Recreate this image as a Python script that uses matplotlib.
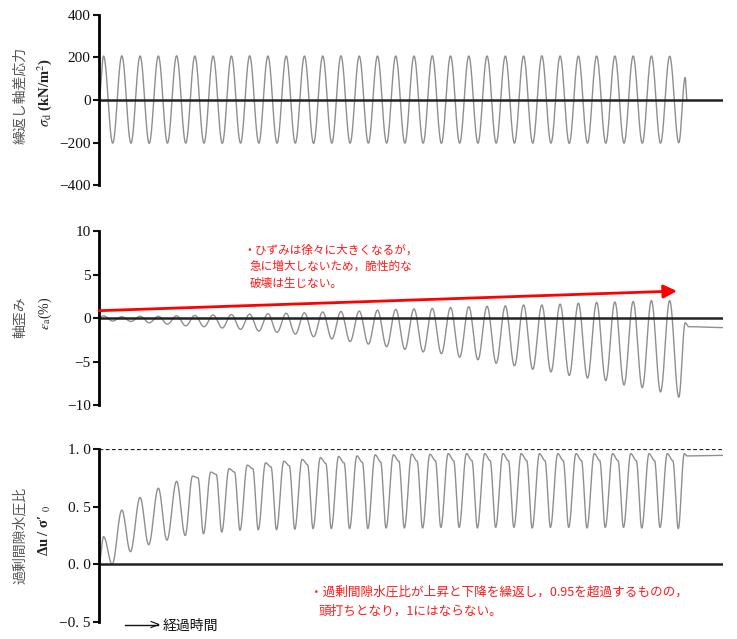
import numpy as np
import matplotlib.pyplot as plt

plt.rcParams['font.family'] = ['Liberation Serif', 'Noto Sans CJK JP']
plt.rcParams['mathtext.fontset'] = 'stix'

# ---- data (one entry per loading cycle, 32 cycles) ----
stress_peak = [207, 208, 207, 207, 208, 207, 207, 207, 208, 207, 207, 207, 207, 208, 207, 207,
               207, 207, 208, 207, 207, 207, 207, 207, 208, 207, 207, 207, 207, 207, 207, 206]
stress_trough = [-203, -203, -204, -203, -203, -203, -204, -203, -203, -203, -203, -204, -203, -203, -203, -203,
                 -203, -203, -204, -203, -203, -203, -203, -203, -203, -204, -203, -203, -203, -203, -203, -201]
stress_end = [106, 0]

strain_peak = [0.25, 0.15, 0.2, 0.2, 0.25, 0.3, 0.35, 0.4, 0.45, 0.5, 0.55, 0.6, 0.7, 0.75, 0.8, 0.9,
               1.0, 1.05, 1.1, 1.2, 1.3, 1.35, 1.4, 1.5, 1.5, 1.6, 1.7, 1.8, 1.85, 1.9, 2.0, 2.0]
strain_trough = [-0.35, -0.4, -0.55, -0.7, -0.9, -1.0, -1.15, -1.3, -1.5, -1.65, -1.85, -2.15, -2.4, -2.7, -3.0, -3.3,
                 -3.6, -3.9, -4.1, -4.5, -4.8, -5.2, -5.5, -5.9, -6.2, -6.6, -6.9, -7.2, -7.7, -8.0, -8.5, -9.1]
strain_end = [-0.55, -1.0, -1.1]

pore_peak = [0.24, 0.47, 0.58, 0.66, 0.72, 0.765, 0.80, 0.83, 0.86, 0.88, 0.895, 0.91, 0.925, 0.935, 0.94, 0.95,
             0.95, 0.955, 0.955, 0.96, 0.96, 0.96, 0.96, 0.96, 0.96, 0.96, 0.96, 0.96, 0.96, 0.96, 0.96, 0.96]
pore_knee = [None, None, None, None, None, 0.75, 0.78, 0.80, 0.83, 0.845, 0.855, 0.865, 0.875, 0.88, 0.885, 0.89,
             0.895, 0.895, 0.90, 0.90, 0.90, 0.90, 0.90, 0.90, 0.90, 0.90, 0.90, 0.90, 0.90, 0.90, 0.90, 0.90]
pore_trough = [0.0, 0.11, 0.17, 0.21, 0.25, 0.265, 0.28, 0.295, 0.30, 0.30, 0.305, 0.31, 0.31, 0.31, 0.31, 0.315,
               0.315, 0.315, 0.32, 0.32, 0.315, 0.32, 0.32, 0.315, 0.32, 0.32, 0.315, 0.32, 0.32, 0.315, 0.32, 0.31]
pore_end = [0.96, 0.94, 0.945]

T_END = 34.17


def smooth_wave(kt, kv, n=30):
    # half-cosine easing between successive extremes
    ts, vs = [], []
    for i in range(len(kt) - 1):
        s = np.linspace(0, 1, n, endpoint=False)
        w = (1 - np.cos(np.pi * s)) / 2
        ts.append(kt[i] + (kt[i + 1] - kt[i]) * s)
        vs.append(kv[i] + (kv[i + 1] - kv[i]) * w)
    ts.append([kt[-1]])
    vs.append([kv[-1]])
    return np.concatenate(ts), np.concatenate(vs)


# stress knots
kt, kv = [0.0], [0.0]
for k in range(len(stress_peak)):
    kt += [k + 0.25, k + 0.75]
    kv += [stress_peak[k], stress_trough[k]]
kt += [32.1, 32.2]
kv += stress_end
t_s, v_s = smooth_wave(kt, kv)

# strain knots
kt, kv = [0.0], [0.0]
for k in range(len(strain_peak)):
    kt += [k + 0.25, k + 0.75]
    kv += [strain_peak[k], strain_trough[k]]
kt += [32.1, 32.3, T_END]
kv += strain_end
t_e, v_e = smooth_wave(kt, kv)

# pore pressure knots
kt, kv = [0.0], [0.0]
for k in range(len(pore_peak)):
    if pore_knee[k] is None:
        kt += [k + 0.25, k + 0.72]
        kv += [pore_peak[k], pore_trough[k]]
    else:
        kt += [k + 0.12, k + 0.42, k + 0.72]
        kv += [pore_peak[k], pore_knee[k], pore_trough[k]]
kt += [32.05, 32.2, T_END]
kv += pore_end
t_u, v_u = smooth_wave(kt, kv)

W, H = 737, 639
fig = plt.figure(figsize=(W / 100, H / 100), dpi=100)


def make_ax(top, bottom):
    ax = fig.add_axes([99 / W, 1 - bottom / H, (723 - 99) / W, (bottom - top) / H])
    for s in ['top', 'right', 'bottom']:
        ax.spines[s].set_visible(False)
    ax.spines['left'].set_linewidth(2)
    ax.tick_params(axis='y', direction='out', length=4, width=1.5, labelsize=11, pad=2, colors='#111')
    ax.set_xticks([])
    ax.set_xlim(0, T_END)
    return ax


wave_c = '#8f8f8f'

# stress
ax1 = make_ax(15, 185)
ax1.plot(t_s, v_s, color=wave_c, lw=1.0)
ax1.axhline(0, color='#222', lw=1.8)
ax1.set_ylim(-400, 400)
ax1.set_yticks([-400, -200, 0, 200, 400])

# strain
ax2 = make_ax(231, 405)
ax2.plot(t_e, v_e, color=wave_c, lw=1.0)
ax2.axhline(0, color='#222', lw=1.8)
ax2.set_ylim(-10, 10)
ax2.set_yticks([-10, -5, 0, 5, 10])
ax2.annotate('', xy=(31.65, 3.1), xytext=(0, 0.84),
             arrowprops=dict(arrowstyle='-|>', color='red', lw=2, mutation_scale=20,
                             shrinkA=0, shrinkB=0), annotation_clip=False)

# pore pressure ratio
ax3 = make_ax(449, 622)
ax3.plot(t_u, v_u, color=wave_c, lw=1.0)
ax3.axhline(0, color='#222', lw=1.8)
ax3.axhline(1.0, color='#222', lw=0.9, ls=(0, (3, 2)))
ax3.set_ylim(-0.5, 1.0)
ax3.set_yticks([-0.5, 0.0, 0.5, 1.0])
ax3.set_yticklabels(['\u22120. 5', '0. 0', '0. 5', '1. 0'])

# y labels
jp = dict(rotation=90, ha='center', va='center', fontsize=10, color='#555',
          family=['Noto Sans CJK JP'])
fig.text(20 / W, 1 - 95 / H, '繰返し軸差応力', **jp)
fig.text(20 / W, 1 - 317 / H, '軸歪み', **jp)
fig.text(20 / W, 1 - 535 / H, '過剰間隙水圧比', **jp)

fig.text(45 / W, 1 - 93 / H, r'$\sigma_{\mathrm{d}}$ (kN/m$^{2}$)', rotation=90, ha='center',
         va='center', fontsize=10.5, fontweight='bold', color='#222')
fig.text(45 / W, 1 - 313 / H, r'$\epsilon_{\mathrm{a}}$(%)', rotation=90, ha='center',
         va='center', fontsize=10, color='#222')
fig.text(45 / W, 1 - 530 / H, 'Δu / σ\u2032 $_{0}$', rotation=90, ha='center',
         va='center', fontsize=10.5, fontweight='bold', color='#222')

# red notes
red = dict(color='#ff1a1a', fontsize=8.4, family=['Noto Sans CJK JP'], va='center', ha='left')
fig.text(243 / W, 1 - 250 / H, '・ひずみは徐々に大きくなるが，', **red)
fig.text(250 / W, 1 - 266 / H, '急に増大しないため，脆性的な', **red)
fig.text(250 / W, 1 - 283 / H, '破壊は生じない。', **red)
red['fontsize'] = 9.1
fig.text(310 / W, 1 - 592 / H, '・過剰間隙水圧比が上昇と下降を繰返し，0.95を超過するものの，', **red)
fig.text(319 / W, 1 - 611 / H, '頭打ちとなり，1にはならない。', **red)

# elapsed time arrow
fig.add_artist(plt.Line2D([125 / W, 158 / W], [1 - 625 / H, 1 - 625 / H], color='#111', lw=1.0))
fig.text(160 / W, 1 - 625 / H, '>', fontsize=10, color='#111', va='center', ha='right',
         family=['DejaVu Sans'])
fig.text(163 / W, 1 - 626 / H, '経過時間', fontsize=10, color='#111', va='center', ha='left',
         family=['Noto Sans CJK JP'])

fig.savefig('out.png', dpi=100)
